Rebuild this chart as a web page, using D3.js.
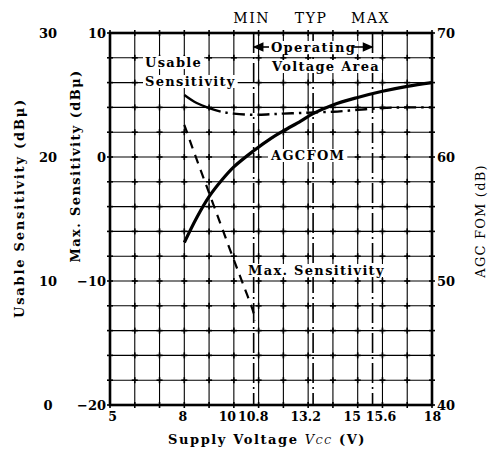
<!DOCTYPE html>
<html><head><meta charset="utf-8">
<script src="https://cdn.jsdelivr.net/npm/d3@7/dist/d3.min.js"></script>
<style>body{margin:0;background:#fff}svg{display:block}</style>
</head><body><svg id="c" width="488" height="450"></svg>
<script>
// ---- data ----
const voltage    = [8, 8.5, 9, 9.5, 10, 10.8, 11.5, 12, 12.7, 13.2, 14, 15, 16, 17, 18];
const agcFom     = [53.1, 55.1, 56.8, 58.1, 59.2, 60.5, 61.5, 62.1, 62.9, 63.5, 64.2, 64.8, 65.3, 65.7, 66.0];
const usableSens = [25.0, 24.35, 23.95, 23.65, 23.5, 23.4, 23.45, 23.5, 23.55, 23.6, 23.65, 23.8, 23.95, 24.0, 24.0];
const maxVolt    = [8, 8.5, 9, 9.5, 10, 10.4, 10.8, 10.85];
const maxSens    = [2.6, -0.2, -2.9, -5.6, -8.3, -10.4, -12.6, -13.2];
const xTicks      = [5, 8, 10, 10.8, 13.2, 15, 15.6, 18];
const xTickLabels = ["5", "8", "10", "10.8", "13.2", "15", "15.6", "18"];
const usableTicks = [0, 10, 20, 30];
const maxTicks    = [-20, -10, 0, 10];
const agcTicks    = [40, 50, 60, 70];
const markerVolts  = [10.8, 13.2, 15.6];
const markerLabels = ["MIN", "TYP", "MAX"];

// ---- layout ----
const L = 110, R = 432, T = 33, B = 405;
const FONT = "'DejaVu Serif', serif";
const svg = d3.select("#c");
const x    = d3.scaleLinear().domain([5, 18]).range([L, R]);
const yMax = d3.scaleLinear().domain([-20, 10]).range([B, T]);
const yUse = d3.scaleLinear().domain([0, 30]).range([B, T]);
const yAgc = d3.scaleLinear().domain([40, 70]).range([B, T]);

// grid
const gx = d3.range(5, 18.01, 1), gy = d3.range(-20, 10.01, 2);
const grid = svg.append("g").attr("stroke", "#000").attr("stroke-width", 1.1);
grid.selectAll(".vx").data(gx).join("line")
  .attr("x1", d => x(d)).attr("x2", d => x(d)).attr("y1", T).attr("y2", B);
grid.selectAll(".hy").data(gy).join("line")
  .attr("x1", L).attr("x2", R).attr("y1", d => yMax(d)).attr("y2", d => yMax(d));
// small crosses at intersections
const cross = svg.append("g").attr("stroke", "#000").attr("stroke-width", 1.6);
gx.forEach(a => gy.forEach(b => {
  cross.append("line").attr("x1", x(a) - 3).attr("x2", x(a) + 3).attr("y1", yMax(b)).attr("y2", yMax(b));
  cross.append("line").attr("x1", x(a)).attr("x2", x(a)).attr("y1", yMax(b) - 3).attr("y2", yMax(b) + 3);
}));

// MIN/TYP/MAX dash-dot verticals
svg.append("g").selectAll("line").data(markerVolts).join("line")
  .attr("x1", d => x(d)).attr("x2", d => x(d)).attr("y1", T).attr("y2", B)
  .attr("stroke", "#000").attr("stroke-width", 1.6).attr("stroke-dasharray", "20,4,2,4");

// frame
svg.append("rect").attr("x", L).attr("y", T).attr("width", R - L).attr("height", B - T)
  .attr("fill", "none").attr("stroke", "#000").attr("stroke-width", 2.6);

// axes
function styleAxis(g) {
  g.select(".domain").remove();
  g.selectAll("line").remove();
  g.selectAll("text").attr("font-family", FONT).attr("font-size", 13).attr("font-weight", "bold").attr("fill", "#000");
}
svg.append("g").attr("transform", `translate(${L},0)`)
  .call(d3.axisLeft(yMax).tickValues(maxTicks).tickSize(0).tickPadding(4).tickFormat(d => d < 0 ? "\u2212" + Math.abs(d) : d))
  .call(styleAxis);
svg.append("g").attr("transform", `translate(48,0)`)
  .call(d3.axisLeft(yUse).tickValues(usableTicks).tickSize(0).tickPadding(0))
  .call(styleAxis).selectAll("text").attr("text-anchor", "middle");
svg.append("g").attr("transform", `translate(${R},0)`)
  .call(d3.axisRight(yAgc).tickValues(agcTicks).tickSize(0).tickPadding(5))
  .call(styleAxis);
const labelShift = [2, -2, -7, -1, -8, -6, 8, 0];
svg.append("g").attr("transform", `translate(0,${B})`)
  .call(d3.axisBottom(x).tickValues(xTicks).tickSize(0).tickPadding(7).tickFormat((d, i) => xTickLabels[i]))
  .call(styleAxis)
  .selectAll("text").attr("dx", (d, i) => labelShift[i]).attr("font-size", 12.5);

// curves
const curve = d3.curveCatmullRom.alpha(0.5);
const lineAgc = d3.line().x((d, i) => x(voltage[i])).y(d => yAgc(d)).curve(curve);
const lineUse = d3.line().x(d => x(d[0])).y(d => yUse(d[1])).curve(curve);
const lineMax = d3.line().x((d, i) => x(maxVolt[i])).y(d => yMax(d)).curve(curve);

const usePts = voltage.map((v, i) => [v, usableSens[i]]);
svg.append("path").attr("d", lineUse(usePts.filter(p => p[0] <= 9)))
  .attr("fill", "none").attr("stroke", "#000").attr("stroke-width", 2.4);
svg.append("path").attr("d", lineUse(usePts.filter(p => p[0] >= 9)))
  .attr("fill", "none").attr("stroke", "#000").attr("stroke-width", 2.4).attr("stroke-dasharray", "12,5,2.5,5");
svg.append("path").attr("d", lineMax(maxSens))
  .attr("fill", "none").attr("stroke", "#000").attr("stroke-width", 2.2).attr("stroke-dasharray", "9,7");
svg.append("path").attr("d", lineAgc(agcFom))
  .attr("fill", "none").attr("stroke", "#000").attr("stroke-width", 3.2);

// boxed labels
function boxed(tx, ty, str, pad) {
  const t = svg.append("text").attr("x", tx).attr("y", ty).text(str)
    .attr("font-family", FONT).attr("font-size", 13).attr("font-weight", "bold").attr("letter-spacing", 1.3);
  const bb = t.node().getBBox();
  svg.insert("rect", () => t.node()).attr("x", bb.x - pad).attr("y", bb.y + 1).attr("width", bb.width + 2 * pad).attr("height", bb.height - 2).attr("fill", "#fff");
  return t;
}
boxed(145, 67, "Usable", 2);
boxed(145, 86, "Sensitivity", 2);
boxed(271, 52, "Operating", 2);
boxed(272, 71, "Voltage Area", 2);
boxed(271, 160, "AGCFOM", 2);
boxed(248, 275, "Max. Sensitivity", 3);

// arrows for operating area
const arr = svg.append("g").attr("stroke", "#000").attr("stroke-width", 1.6).attr("fill", "#000");
arr.append("line").attr("x1", x(10.8)).attr("x2", 269).attr("y1", 47).attr("y2", 47);
arr.append("path").attr("d", `M${x(10.8) + 1},47 l8,-3.5 l0,7 z`);
arr.append("line").attr("x1", 352).attr("x2", x(15.6)).attr("y1", 47).attr("y2", 47);
arr.append("path").attr("d", `M${x(15.6) - 1},47 l-8,-3.5 l0,7 z`);

// MIN TYP MAX
svg.append("g").selectAll("text").data(markerLabels).join("text")
  .attr("x", (d, i) => x(markerVolts[i]) - 2).attr("y", 23).attr("text-anchor", "middle")
  .attr("font-family", FONT).attr("font-size", 14).attr("letter-spacing", 1.5).text(d => d);

// axis titles
svg.append("text").attr("transform", "translate(24,208) rotate(-90)").attr("text-anchor", "middle")
  .attr("font-family", FONT).attr("font-size", 13).attr("font-weight", "bold").attr("letter-spacing", 1.8)
  .text("Usable Sensitivity (dB\u03bc)");
svg.append("text").attr("transform", "translate(80,166) rotate(-90)").attr("text-anchor", "middle")
  .attr("font-family", FONT).attr("font-size", 13).attr("font-weight", "bold").attr("letter-spacing", 1.4)
  .text("Max. Sensitivity (dB\u03bc)");
svg.append("text").attr("transform", "translate(485,221) rotate(-90)").attr("text-anchor", "middle")
  .attr("font-family", FONT).attr("font-size", 13).attr("letter-spacing", 1.2)
  .text("AGC FOM (dB)");
const xt = svg.append("text").attr("x", 267).attr("y", 444).attr("text-anchor", "middle")
  .attr("font-family", FONT).attr("font-size", 13).attr("font-weight", "bold").attr("letter-spacing", 1.6);
xt.append("tspan").text("Supply Voltage ");
xt.append("tspan").attr("font-style", "italic").attr("font-weight", "normal").text("V");
xt.append("tspan").attr("font-style", "italic").attr("font-weight", "normal").attr("font-size", 9).text("CC");
xt.append("tspan").text(" (V)");
</script></body></html>
